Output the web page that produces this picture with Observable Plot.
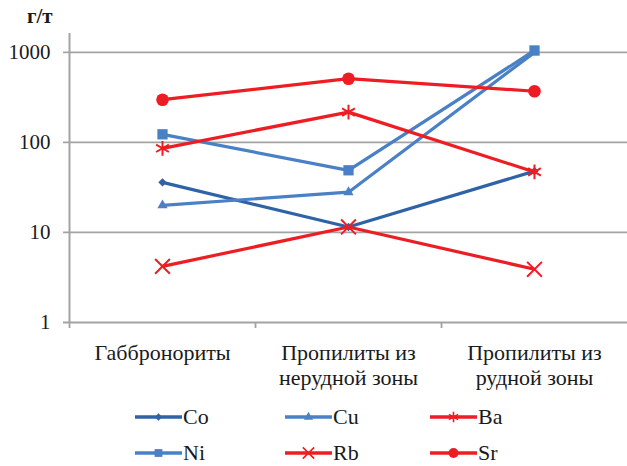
<!DOCTYPE html>
<html><head><meta charset="utf-8">
<script src="https://cdn.jsdelivr.net/npm/d3@7"></script>
<script src="https://cdn.jsdelivr.net/npm/@observablehq/plot@0.6"></script>
<style>
html,body{margin:0;padding:0;background:#fff;}
#wrap{position:relative;width:627px;height:466px;font-family:"Liberation Serif","Times New Roman",serif;color:#1a1a1a;}
#unit{position:absolute;left:27px;top:3px;font-weight:bold;font-size:21px;line-height:26px;}
#legend{position:absolute;left:0;top:400px;width:627px;height:66px;}
.item{position:absolute;display:flex;align-items:center;font-size:22px;line-height:24px;height:24px;}
.item svg{display:block;margin-right:1px;}
</style></head>
<body><div id="wrap"><div id="unit">г/т</div><div id="chart"></div><div id="legend"></div></div>
<script>
const categories = ["Габбронориты", "Пропилиты из\nнерудной зоны", "Пропилиты из\nрудной зоны"];
const series = ["Co", "Ni", "Cu", "Ba", "Rb", "Sr"];
const Co = [36, 11.5, 48];
const Ni = [123, 49, 1050];
const Cu = [20, 28, 1000];
const Ba = [86, 217, 47];
const Rb = [4.2, 11.5, 3.9];
const Sr = [298, 510, 370];
const yTicks = [1, 10, 100, 1000];
const legendOrder = ["Co", "Cu", "Ba", "Ni", "Rb", "Sr"];

const values = {Co, Ni, Cu, Ba, Rb, Sr};
const colors = {Co:"#2f63a8", Ni:"#4a80c6", Cu:"#4a80c6", Ba:"#ee1d23", Rb:"#ee1d23", Sr:"#ee1d23"};
const symbols = {Co:"diamond2", Ni:"square", Cu:"triangle", Ba:"asterisk", Rb:"times", Sr:"circle"};
const radii = {Co:3.8, Ni:5.8, Cu:3.8, Ba:7, Rb:6.8, Sr:6.3};
const legendR = {Co:3.3, Ni:4.4, Cu:3.4, Ba:5, Rb:5.2, Sr:5};
const strokeSym = {Ba:true, Rb:true};

const table = series.flatMap(s => values[s].map((v, i) => ({s, i, v})));
const catTable = categories.map((c, i) => ({c, i}));

const marks = [
  Plot.ruleY(yTicks, {stroke:"#a3a3a3", strokeWidth:1.8, insetLeft:-6}),
  Plot.ruleX([-0.5], {stroke:"#a3a3a3", strokeWidth:2}),
  Plot.ruleX([-0.5, 0.5, 1.5], {y1:1, y2:1, insetBottom:-6, stroke:"#a3a3a3", strokeWidth:1.8}),
  Plot.text(yTicks, {x:-0.5, y:d=>d, text:d=>String(d), textAnchor:"end", dx:-19, fontSize:21, fill:"#1a1a1a"}),
  Plot.text(catTable, {x:"i", text:"c", frameAnchor:"bottom", lineAnchor:"top", dy:20, fontSize:22, lineHeight:1.12, fill:"#1a1a1a"})
];
for (const s of series) {
  const d = table.filter(r => r.s === s);
  marks.push(Plot.line(d, {x:"i", y:"v", stroke:colors[s], strokeWidth:3.2}));
  if (strokeSym[s]) marks.push(Plot.dot(d, {x:"i", y:"v", symbol:symbols[s], r:radii[s], stroke:colors[s], strokeWidth:2, fill:"none"}));
  else marks.push(Plot.dot(d, {x:"i", y:"v", symbol:symbols[s], r:radii[s], fill:colors[s], stroke:"none"}));
}

const chart = Plot.plot({
  width:627, height:400,
  marginLeft:69, marginRight:0, marginTop:33, marginBottom:78,
  x:{type:"linear", domain:[-0.5, 2.5], axis:null},
  y:{type:"log", domain:[1, 1620], axis:null},
  style:{fontFamily:"Liberation Serif", fontSize:"21px", background:"white", color:"#1a1a1a"},
  marks
});
document.getElementById("chart").appendChild(chart);

const symMap = {diamond2:d3.symbolDiamond2, square:d3.symbolSquare, triangle:d3.symbolTriangle, asterisk:d3.symbolAsterisk, times:d3.symbolTimes, circle:d3.symbolCircle};
const colX = [135, 285, 430];
const rowY = [417, 453];
const leg = document.getElementById("legend");
legendOrder.forEach((s, k) => {
  const col = k % 3, row = Math.floor(k / 3);
  const div = document.createElement("div");
  div.className = "item";
  div.style.left = colX[col] + "px";
  div.style.top = (rowY[row] - 400 - 12) + "px";
  const svg = d3.create("svg").attr("width", 47).attr("height", 24);
  svg.append("line").attr("x1", 0).attr("x2", 47).attr("y1", 12).attr("y2", 12).attr("stroke", colors[s]).attr("stroke-width", 3.6);
  const r = legendR[s];
  const p = svg.append("path").attr("transform", "translate(23.5,12)").attr("d", d3.symbol(symMap[symbols[s]], r * r * Math.PI)());
  if (strokeSym[s]) p.attr("fill", "none").attr("stroke", colors[s]).attr("stroke-width", 1.6);
  else p.attr("fill", colors[s]);
  div.appendChild(svg.node());
  const t = document.createElement("span");
  t.textContent = s;
  div.appendChild(t);
  leg.appendChild(div);
});
</script></body></html>
